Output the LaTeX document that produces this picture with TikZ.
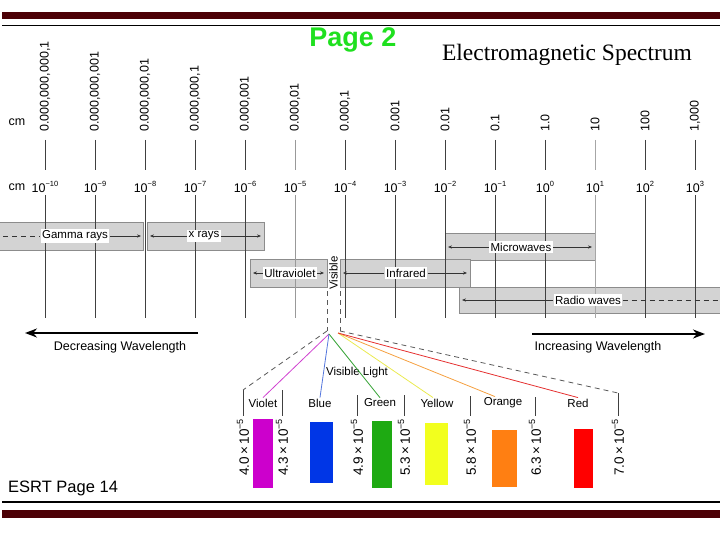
\documentclass[tikz,border=0pt]{standalone}
\usepackage{fontspec}
\setmainfont{Liberation Sans}
\newfontfamily\titlefont{Liberation Serif}
\usetikzlibrary{arrows.meta}
\definecolor{barmaroon}{HTML}{4C0006}
\definecolor{bandfill}{HTML}{D3D3D3}
\definecolor{bandedge}{HTML}{8C8C8C}
\definecolor{pagegreen}{HTML}{1FE01F}
\definecolor{vviolet}{HTML}{CC00CC}
\definecolor{vblue}{HTML}{0036E6}
\definecolor{vgreen}{HTML}{1EAA12}
\definecolor{vyellow}{HTML}{F2FF1E}
\definecolor{vorange}{HTML}{FF7F12}
\definecolor{vred}{HTML}{FF0000}
\definecolor{fanviolet}{HTML}{D040D0}
\definecolor{fanblue}{HTML}{5577DD}
\definecolor{fangreen}{HTML}{30A030}
\definecolor{fanyellow}{HTML}{EAEA50}
\definecolor{fanorange}{HTML}{F5A040}
\definecolor{fanred}{HTML}{E53030}
\newcommand{\tenpow}[1]{10\raisebox{0.42em}{\fontsize{7.5}{8}\selectfont#1}}
\newcommand{\visnum}[1]{#1\,×\,10\raisebox{0.42em}{\fontsize{9}{10}\selectfont−5}}
\tikzset{
  lbl/.style={font=\fontsize{12.5}{14}\selectfont,inner sep=1pt},
  collbl/.style={font=\fontsize{11.5}{13}\selectfont,inner sep=1pt},
  bandbox/.style={fill=bandfill,draw=bandedge,line width=0.8pt},
  bandlbl/.style={font=\fontsize{11.5}{13}\selectfont,fill=white,inner sep=1.5pt},
  bandarrow/.style={-{Stealth[length=4pt,width=3.2pt]},line width=0.6pt,black!80},
  bandtail/.style={line width=0.6pt,black!80,dash pattern=on 5pt off 4pt},
  colline/.style={line width=1pt},
  bigarrow/.style={-{Stealth[length=12pt,width=9pt]},line width=2pt},
  fanline/.style={line width=0.8pt},
  visdash/.style={line width=0.8pt,black!65,dash pattern=on 5pt off 4pt},
}
\begin{document}
\begin{tikzpicture}[x=1pt,y=-1pt]
  \useasboundingbox (0,0) rectangle (720,540);
  % Header and footer rules
  \fill[barmaroon] (2,12) rectangle (720,19);
  \draw[line width=1.6pt] (2,25.5) -- (720,25.5);
  \draw[line width=1.6pt] (2,502) -- (720,502);
  \fill[barmaroon] (2,510) rectangle (720,518);
  \node[font=\fontsize{27}{30}\selectfont\bfseries,text=pagegreen] (pagenum) at (353,40) {Page 2};
  \node[anchor=base,font=\titlefont\fontsize{23.5}{26}\selectfont] (title) at (567,61) {Electromagnetic Spectrum};
  \node[anchor=base west,font=\fontsize{16.5}{19}\selectfont,inner sep=0pt] (esrt) at (8,492) {ESRT Page 14};

  % Band boxes (behind the scale lines)
  \draw[bandbox] (-1,222) rectangle (143,250);
  \draw[bandbox] (147,222) rectangle (264,250);
  \draw[bandbox] (445,233) rectangle (595,260);
  \draw[bandbox] (250,259) rectangle (327,287);
  \draw[bandbox] (340,259) rectangle (470,287);
  \draw[bandbox] (459,287) rectangle (721,313);

  % Scale: cm values, powers of ten, column lines
  \node[lbl] (cmtop) at (17,122) {cm};
  \node[lbl] (cmpow) at (17,187) {cm};
  \foreach \col/\cmval/\ex/\shade in {0/{0.000,000,000,1}/−10/75, 1/{0.000,000,001}/−9/75,
      2/{0.000,000,01}/−8/75, 3/{0.000,000,1}/−7/75, 4/{0.000,001}/−6/75, 5/{0.000,01}/−5/40,
      6/{0.000,1}/−4/75, 7/0.001/−3/75, 8/0.01/−2/75, 9/0.1/−1/75, 10/1.0/0/75, 11/10/1/35,
      12/100/2/75, 13/{1,000}/3/75}{
    \node[lbl,rotate=90,anchor=west] (cm\col) at ({45+50*\col},133) {\cmval};
    \draw[colline,black!\shade] ({45+50*\col},140) -- ({45+50*\col},170);
    \node[lbl] (ex\col) at ({45+50*\col},187) {\tenpow{\ex}};
    \draw[colline,black!\shade] ({45+50*\col},195) -- ({45+50*\col},318);
  }

  % Band labels and their arrows
  \node[bandlbl] (gamma) at (75,236) {Gamma rays};
  \coordinate (gammaL) at (3,236); \coordinate (gammaR) at (141,236);
  \draw[bandtail] (gammaL) -- (gamma.west);
  \draw[bandarrow] (gamma.east) -- (gammaR);
  \node[bandlbl] (xray) at (204,236) {x rays};
  \coordinate (xrayL) at (150,236); \coordinate (xrayR) at (261,236);
  \draw[bandarrow] (xray.west) -- (xrayL);
  \draw[bandarrow] (xray.east) -- (xrayR);
  \node[bandlbl] (micro) at (521,247) {Microwaves};
  \coordinate (microL) at (448,247); \coordinate (microR) at (592,247);
  \draw[bandarrow] (micro.west) -- (microL);
  \draw[bandarrow] (micro.east) -- (microR);
  \node[bandlbl] (uv) at (290,273) {Ultraviolet};
  \coordinate (uvL) at (253,273); \coordinate (uvR) at (324,273);
  \draw[bandarrow] (uv.west) -- (uvL);
  \draw[bandarrow] (uv.east) -- (uvR);
  \node[bandlbl] (ir) at (406,273) {Infrared};
  \coordinate (irL) at (343,273); \coordinate (irR) at (467,273);
  \draw[bandarrow] (ir.west) -- (irL);
  \draw[bandarrow] (ir.east) -- (irR);
  \node[bandlbl] (radio) at (588,300) {Radio waves};
  \coordinate (radioL) at (462,300); \coordinate (radioR) at (719,300);
  \draw[bandarrow] (radio.west) -- (radioL);
  \draw[bandtail] (radio.east) -- (radioR);

  % Visible strip and its dashed drop lines
  \node[collbl,rotate=90] (visible) at (333.5,273) {Visible};
  \coordinate (visTL) at (327,291); \coordinate (visL) at (327,331);
  \coordinate (visTR) at (340,291); \coordinate (visR) at (340,331);
  \draw[visdash] (visTL) -- (visL);
  \draw[visdash] (visTR) -- (visR);

  % Wavelength direction arrows
  \node[lbl] (decr) at (120,347) {Decreasing Wavelength};
  \coordinate (decrA) at (198,333); \coordinate (decrB) at (25,333);
  \draw[bigarrow] (decrA) -- (decrB);
  \node[lbl] (incr) at (598,347) {Increasing Wavelength};
  \coordinate (incrA) at (532,334); \coordinate (incrB) at (705,334);
  \draw[bigarrow] (incrA) -- (incrB);

  % Visible light fan
  \node[collbl] (vislight) at (357,373) {Visible Light};
  \node[collbl] (lblviolet) at (263,403) {Violet};
  \node[collbl] (lblblue) at (320,403) {Blue};
  \node[collbl] (lblgreen) at (380,403) {Green};
  \node[collbl] (lblyellow) at (437,403) {Yellow};
  \node[collbl] (lblorange) at (503,403) {Orange};
  \node[collbl] (lblred) at (578,403) {Red};
  \coordinate (apexV) at (329,334);
  \coordinate (apexR) at (338,333);
  \draw[fanline,fanviolet] (apexV) -- (lblviolet.north);
  \draw[fanline,fanblue] (apexV) -- (lblblue.north);
  \draw[fanline,fangreen] (apexV) -- (lblgreen.north);
  \draw[fanline,fanyellow] (apexR) -- ([xshift=-4pt]lblyellow.north);
  \draw[fanline,fanorange] (apexR) -- ([xshift=-8pt]lblorange.north);
  \draw[fanline,fanred] (apexR) -- (lblred.north);

  % Colour boundaries in cm
  \foreach \idx/\xv/\wl/\ytop in {1/243/4.0/390, 2/282/4.3/390, 3/357/4.9/395, 4/404/5.3/395,
      5/470/5.8/396, 6/535/6.3/397, 7/618/7.0/393}{
    \coordinate (tk\idx) at (\xv,\ytop);
    \draw[line width=0.9pt,black!75] (tk\idx) -- (\xv,416);
    \node[rotate=90,anchor=east,inner sep=1pt,font=\fontsize{13.5}{15}\selectfont] (wl\idx) at (\xv,418) {\visnum{\wl}};
  }
  \draw[visdash] (visL) -- (tk1);
  \draw[visdash] (visR) -- (tk7);

  % Colour swatches
  \fill[vviolet] (253,419) rectangle (273,488);
  \fill[vblue] (310,422) rectangle (333,483);
  \fill[vgreen] (372,421) rectangle (392,488);
  \fill[vyellow] (425,423) rectangle (448,485);
  \fill[vorange] (492,430) rectangle (517,487);
  \fill[vred] (574,429) rectangle (593,488);
\end{tikzpicture}
\end{document}
